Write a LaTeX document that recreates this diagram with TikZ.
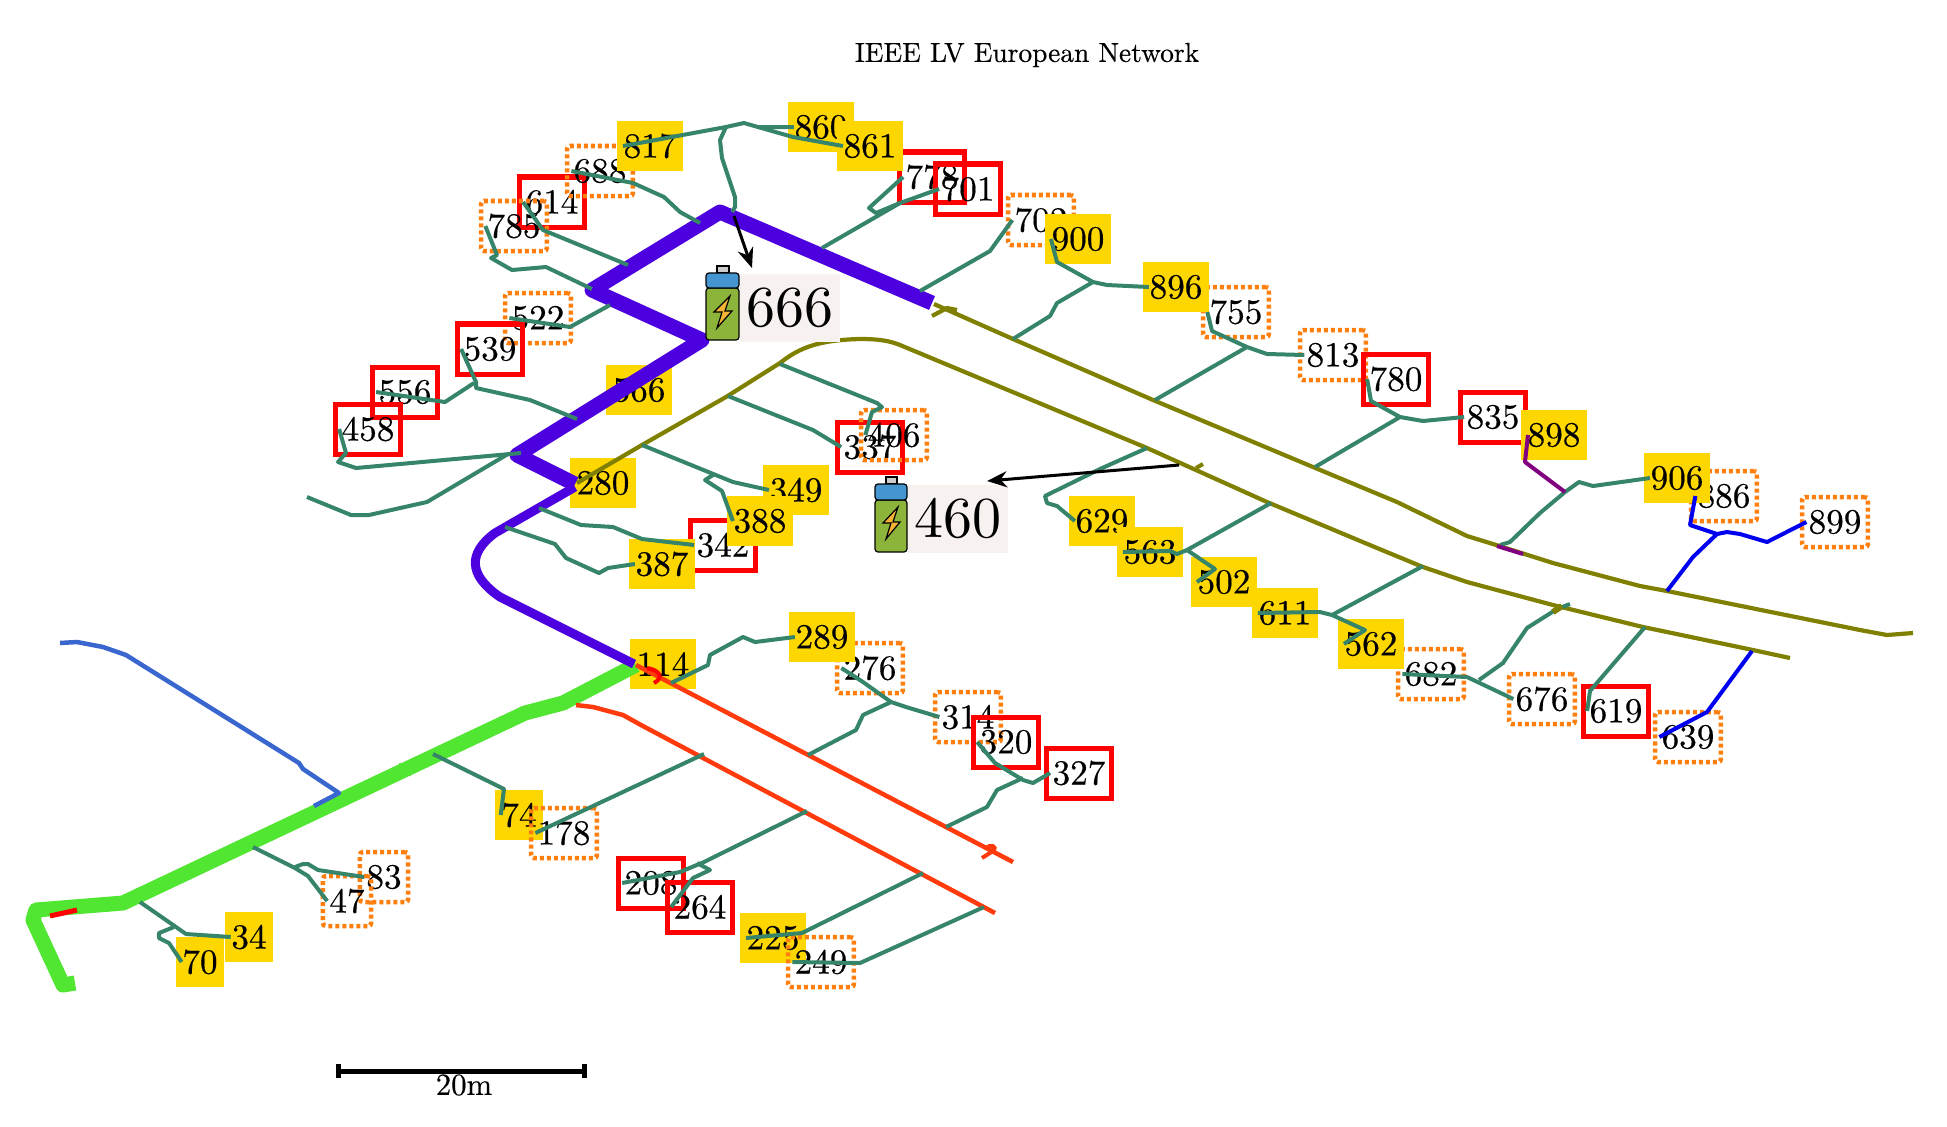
\documentclass[tikz,border=0pt]{standalone}
\usepackage{tikz}
\usepackage{fontspec}
\setmainfont{lmroman10-regular}[Extension=.otf, FakeBold=0.4]
\newfontfamily\bigfont{lmroman10-regular}[Extension=.otf]
\usetikzlibrary{arrows.meta}

\tikzset{
  numnode/.style={inner xsep=0.066cm, inner ysep=0pt, minimum height=0.5cm, font=\normalsize},
  goldnode/.style={numnode, fill=gold},
  rednode/.style={numnode, draw=boxred, line width=0.05cm},
  dotnode/.style={numnode, draw=boxorange, line width=0.045cm, dash pattern=on 0.04cm off 0.03cm, rounded corners=0.03cm},
  tx/.style={xshift=0.066cm},
  branch/.style={draw=branchgreen, line width=0.04cm, line join=round},
  bigtext/.style={fill=batterybg, font=\bigfont\fontsize{16.5}{20}\selectfont, minimum width=1cm, minimum height=0.68cm, inner sep=0pt},
  batterybody/.style={draw=black, line width=0.012cm, rounded corners=0.03cm},
}

\begin{document}
\begin{tikzpicture}[x=0.01cm, y=-0.01cm, >={Stealth[length=0.2cm, width=0.16cm]}]

\definecolor{gold}{RGB}{255, 215, 0}
\definecolor{boxred}{RGB}{255, 0, 0}
\definecolor{boxorange}{RGB}{255, 127, 14}
\definecolor{branchgreen}{RGB}{54, 133, 106}
\definecolor{feederpurple}{RGB}{76, 0, 224}
\definecolor{feedergreen}{RGB}{80, 230, 50}
\definecolor{feederolive}{RGB}{128, 128, 0}
\definecolor{feederred}{RGB}{255, 58, 12}
\definecolor{feederblue}{RGB}{58, 102, 208}
\definecolor{linkblue}{RGB}{0, 0, 240}
\definecolor{linkviolet}{RGB}{128, 0, 128}
\definecolor{batterybg}{RGB}{247, 242, 240}
\definecolor{batteryblue}{RGB}{69, 150, 208}
\definecolor{batterygreen}{RGB}{141, 180, 58}
\definecolor{batterycap}{RGB}{204, 204, 204}
\definecolor{boltorange}{RGB}{245, 179, 53}

\useasboundingbox (0,0) rectangle (1947,1126);

\node[font=\fontsize{7.8}{9}\selectfont] (title) at (1027,55) {IEEE LV European Network};

% open boxes
\node[rednode] (n614) at (552,202) {614};
\node[dotnode] (n785) at (514,226) {785};
\node[dotnode] (n688) at (600,171) {688};
\node[dotnode] (n522) at (538,318) {522};
\node[rednode] (n539) at (490,349) {539};
\node[rednode] (n556) at (405,392) {556};
\node[rednode] (n458) at (368,429) {458};
\node[rednode] (n778) at (932,177) {778};
\node[rednode] (n701) at (968,189) {701};
\node[dotnode] (n702) at (1041,220) {702};
\node[dotnode] (n755) at (1236,312) {755};
\node[dotnode] (n813) at (1333,355) {813};
\node[rednode] (n780) at (1396,379) {780};
\node[rednode] (n835) at (1493,417) {835};
\node[dotnode] (n886) at (1724,496) {886};
\node[dotnode] (n899) at (1835,522) {899};
\node[rednode] (n337) at (870,447) {337};
\node[dotnode] (n406) at (894,435) {406};
\node[rednode] (n342) at (723,545) {342};
\node[dotnode] (n276) at (870,668) {276};
\node[dotnode] (n314) at (968,717) {314};
\node[rednode] (n320) at (1006,742) {320};
\node[rednode] (n327) at (1079,773) {327};
\node[rednode] (n208) at (651,883) {208};
\node[rednode] (n264) at (700,907) {264};
\node[dotnode] (n682) at (1431,674) {682};
\node[dotnode] (n676) at (1542,699) {676};
\node[rednode] (n619) at (1616,711) {619};
\node[dotnode] (n639) at (1688,737) {639};
\node[dotnode] (n83) at (384,877) {83};
\node[dotnode] (n47) at (347,901) {47};

% filled boxes
\node[goldnode] (n817) at (650,146) {817};
\node[goldnode] (n860) at (821,127) {860};
\node[goldnode] (n861) at (870,146) {861};
\node[goldnode] (n900) at (1078,239) {900};
\node[goldnode] (n896) at (1176,287) {896};
\node[goldnode] (n898) at (1554,435) {898};
\node[goldnode] (n906) at (1677,478) {906};
\node[goldnode] (n566) at (639,390) {566};
\node[goldnode] (n280) at (603,483) {280};
\node[goldnode] (n349) at (796,490) {349};
\node[goldnode] (n388) at (760,521) {388};
\node[goldnode] (n387) at (662,564) {387};
\node[goldnode] (n629) at (1102,521) {629};
\node[goldnode] (n563) at (1150,552) {563};
\node[goldnode] (n502) at (1224,582) {502};
\node[goldnode] (n611) at (1285,613) {611};
\node[goldnode] (n562) at (1371,644) {562};
\node[goldnode] (n114) at (663,664) {114};
\node[goldnode] (n289) at (822,637) {289};
\node[goldnode] (n225) at (773,938) {225};
\node[goldnode] (n74) at (519,815) {74};
\node[dotnode] (n178) at (564,833) {178};
\node[dotnode] (n249) at (821,962) {249};
\node[goldnode] (n34) at (249,937) {34};
\node[goldnode] (n70) at (200,962) {70};

% feeders
\draw[feedergreen, line width=0.15cm, line join=round] (75,983) -- (63,985) -- (33,920) -- (36,910) -- (123,903) -- (525,713) -- (563,703) -- (636,665);
\draw[feedergreen, line width=0.07cm] (398,766) -- (412,773);
\draw[boxred, line width=0.05cm] (50,916) -- (77,910);
\draw[feederblue, line width=0.045cm, line join=round] (60,643) -- (77,642) -- (103,647) -- (126,655) -- (299,763) -- (303,769) -- (339,793) -- (314,806);
\draw[feederpurple, line width=0.15cm, line join=round] (932,303) -- (720,212) -- (592,290) -- (702,340) -- (517,455) -- (575,484);
\draw[feederpurple, line width=0.09cm] (575,487) -- (495,533) .. controls (468,553) and (468,575) .. (500,597) -- (634,664);
\draw[feederolive, line width=0.042cm, line join=round] (934,304) -- (1013,339) -- (1153,400) -- (1313,467) -- (1397,502) -- (1467,536) -- (1493,544) -- (1553,563) -- (1640,586) -- (1667,591) -- (1860,630) -- (1887,635) -- (1913,633);
\draw[feederolive, line width=0.042cm] (932,316) -- (947,308) -- (957,310);
\draw[feederolive, line width=0.042cm, line join=round] (577,483) -- (642,445) -- (726,397) -- (780,363) .. controls (800,347) and (820,340) .. (860,339) .. controls (880,339) and (890,341) .. (900,345) -- (1147,448) -- (1267,502) -- (1377,548) -- (1423,567) -- (1467,582) -- (1553,605) -- (1643,627) -- (1753,650) -- (1790,658);
\draw[feederolive, line width=0.04cm] (1196,468) -- (1203,464);
\draw[feederred, line width=0.045cm, line join=round] (636,665) -- (1013,862);
\draw[boxred, line width=0.04cm] (647,668) .. controls (660,670) and (664,678) .. (654,683);
\draw[feederred, line width=0.04cm] (982,858) -- (993,851) .. controls (998,846) and (990,844) .. (986,848);
\draw[feederred, line width=0.045cm, line join=round] (576,705) -- (593,707) -- (623,715) -- (641,725) -- (995,913);

% branches
\draw[branch] ([tx]n817.west) -- (726,127) -- (744,123) -- (758,127) -- ([tx]n860.west);
\draw[branch] (758,127) -- (793,137) -- ([tx]n861.west);
\draw[branch] (726,127) -- (720,140) -- (722,158) -- (735,197) -- (735,207) -- (732,212);
\draw[branch] ([tx]n688.west) -- (633,183) -- (664,197) -- (680,212) -- (700,223);
\draw[branch] ([tx]n614.west) -- (543,230) -- (628,265);
\draw[branch] ([tx]n785.west) -- (497,255) -- (491,258) -- (512,270) -- (546,267) -- (592,289);
\draw[branch] ([tx]n522.west) -- (570,327) -- (610,305);
\draw[branch] ([tx]n539.west) -- (476,382) -- (476,388) -- (530,400) -- (577,419);
\draw[branch] ([tx]n556.west) -- (445,402) -- (474,383);
\draw[branch] ([tx]n458.west) -- (346,453) -- (338,462) -- (356,468) -- (521,453);
\draw[branch] (307,497) -- (351,515) -- (369,515) -- (427,502) -- (508,454);
\draw[branch] (780,364) -- (877,403) -- (882,407) -- (872,412) -- ([tx]n406.west);
\draw[branch] (728,396) -- (813,430) -- ([tx]n337.west);
\draw[branch] (642,445) -- (733,482) -- ([tx]n349.west);
\draw[branch] (713,475) -- (705,480) -- (722,491) -- ([tx]n388.west);
\draw[branch] (539,508) -- (581,525) -- (613,527) -- (642,539) -- ([tx]n342.west);
\draw[branch] (505,527) -- (555,544) -- (566,558) -- (599,573) -- (608,568) -- ([tx]n387.west);
\draw[branch] (822,248) -- (900,203) -- ([tx]n701.west);
\draw[branch] ([tx]n778.west) -- (869,208) -- (876,213) -- (900,203);
\draw[branch] (920,291) -- (990,251) -- ([tx]n702.west);
\draw[branch] ([tx]n900.west) -- (1057,262) -- (1093,282) -- (1107,285) -- ([tx]n896.west);
\draw[branch] (1093,282) -- (1057,303) -- (1050,316) -- (1013,339);
\draw[branch] ([tx]n755.west) -- (1212,331) -- (1247,347) -- (1267,354) -- ([tx]n813.west);
\draw[branch] (1247,347) -- (1155,400);
\draw[branch] ([tx]n780.west) -- (1371,401) -- (1400,417) -- (1423,421) -- ([tx]n835.west);
\draw[branch] (1400,417) -- (1315,467);
\draw[branch] (1500,545) -- (1510,542) -- (1540,513) -- (1565,492) -- (1579,482) -- (1593,486) -- ([tx]n906.west);
\draw[branch] (1147,448) -- (1100,469) -- (1045,496) -- (1047,503) -- (1057,506) -- ([tx]n629.west);
\draw[branch] ([tx]n563.west) -- (1170,551) -- (1177,554) -- (1187,550) -- (1271,503);
\draw[branch] (1187,550) -- (1215,569) -- ([tx]n502.west);
\draw[branch] ([tx]n611.west) -- (1320,612) -- (1332,615) -- (1423,566);
\draw[branch] (1332,615) -- (1365,630) -- ([tx]n562.west);
\draw[branch] ([tx]n682.west) -- (1467,677) -- ([tx]n676.west);
\draw[branch] (1479,680) -- (1503,663) -- (1527,628) -- (1557,609) -- (1570,604);
\draw[branch] (1645,627) -- (1590,691) -- ([tx]n619.west);
\draw[branch] (671,683) -- (708,665) -- (710,655) -- (743,637) -- (755,642) -- ([tx]n289.west);
\draw[branch] ([tx]n276.west) -- (863,682) -- (891,702) -- (906,707) -- ([tx]n314.west);
\draw[branch] (891,702) -- (863,715) -- (856,730) -- (808,755);
\draw[branch] ([tx]n320.west) -- (995,763) -- (1023,780) -- (1033,783) -- ([tx]n327.west);
\draw[branch] (1023,778) -- (997,790) -- (987,807) -- (946,827);
\draw[branch] ([tx]n178.west) -- (704,754);
\draw[branch] ([tx]n208.west) -- (680,872) -- (704,862) -- (807,811);
\draw[branch] (697,863) -- (710,870) -- (693,878) -- ([tx]n264.west);
\draw[branch] ([tx]n225.west) -- (802,933) -- (923,873);
\draw[branch] ([tx]n249.west) -- (860,963) -- (984,907);
\draw[branch] (433,754) -- (504,789) -- ([tx]n74.west);
\draw[branch] (253,847) -- (295,868) -- (308,876) -- ([tx]n47.west);
\draw[branch] (295,867) -- (303,864) -- (308,864) -- (318,870) -- ([tx]n83.west);
\draw[branch] (140,902) -- (176,927) -- (186,934) -- ([tx]n34.west);
\draw[branch] (174,927) -- (159,933) -- (159,938) -- (169,943) -- ([tx]n70.west);
\draw[feederolive, line width=0.06cm] (1553,612) -- (1562,606);

% blue and violet links
\draw[linkblue, line width=0.04cm, line join=round] (1667,591) -- (1693,557) -- (1717,534) -- (1727,532) -- (1740,534) -- (1767,542) -- ([tx]n899.west);
\draw[linkblue, line width=0.04cm, line join=round] (1717,534) -- (1690,525) -- ([tx]n886.west);
\draw[linkblue, line width=0.04cm, line join=round] (1752,651) -- (1707,712) -- ([tx]n639.west);
\draw[linkviolet, line width=0.04cm, line join=round] (1528,435) -- (1525,462) -- (1565,492);
\draw[linkviolet, line width=0.04cm] (1497,546) -- (1523,554);

% batteries
\node[bigtext, anchor=north west] (b666) at (739,273) {666};
\fill[batterycap, draw=black, line width=0.012cm] (717,273) -- (717,266) -- (729,266) -- (729,273) -- cycle;
\fill[batterygreen, batterybody] (706,288) -- (739,288) -- (739,340) -- (706,340) -- cycle;
\fill[batteryblue, batterybody] (706,288) -- (706,273) -- (739,273) -- (739,288) -- cycle;
\fill[boltorange, draw=black, line width=0.012cm] (730,296) -- (714,312) -- (722,312) -- (717,328) -- (732,311) -- (725,311) -- cycle;

\node[bigtext, anchor=north west] (b460) at (907,484) {460};
\fill[batterycap, draw=black, line width=0.012cm] (886,484) -- (886,477) -- (897,477) -- (897,484) -- cycle;
\fill[batterygreen, batterybody] (875,500) -- (907,500) -- (907,552) -- (875,552) -- cycle;
\fill[batteryblue, batterybody] (875,500) -- (875,484) -- (907,484) -- (907,500) -- cycle;
\fill[boltorange, draw=black, line width=0.012cm] (898,507) -- (883,523) -- (891,523) -- (886,539) -- (900,522) -- (893,522) -- cycle;

% arrows
\coordinate (a666) at (734,216);
\coordinate (t666) at (752,268);
\coordinate (a460) at (1179,465);
\coordinate (t460) at (987,481);
\draw[->, line width=0.03cm] (a666) -- (t666);
\draw[->, line width=0.03cm] (a460) -- (t460);

% scale bar
\coordinate (barl) at (338,1071);
\coordinate (barr) at (584,1071);
\draw[line width=0.05cm] (barl) -- (barr);
\draw[line width=0.05cm] (338,1064) -- (338,1078);
\draw[line width=0.05cm] (584,1064) -- (584,1078);
\node[font=\fontsize{8.75}{10}\selectfont] (barlabel) at (464,1085) {20m};

\end{tikzpicture}
\end{document}
